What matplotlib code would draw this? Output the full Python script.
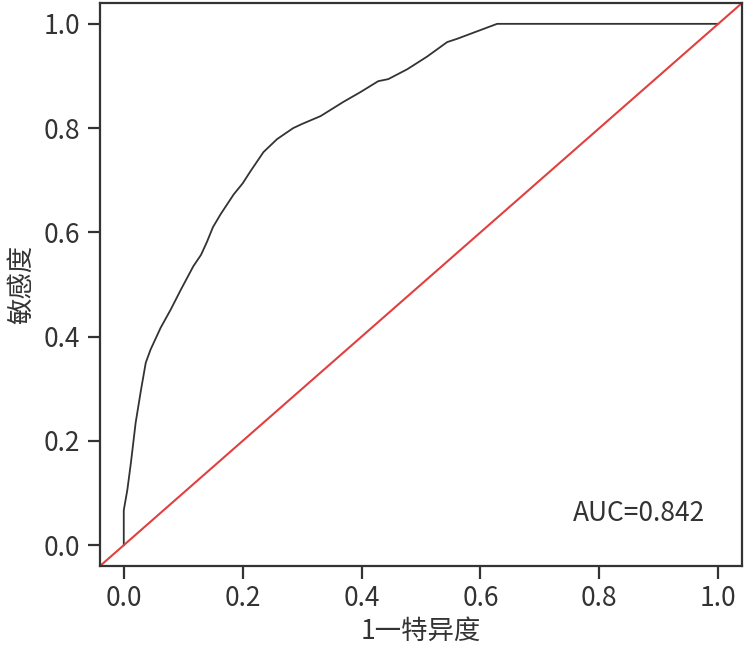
import matplotlib
matplotlib.use("Agg")
import matplotlib.pyplot as plt

plt.rcParams['font.family'] = ['Noto Sans CJK SC', 'DejaVu Sans']

# ROC curve points
fpr = [0.0, 0.0, 0.006, 0.012, 0.020, 0.029, 0.037, 0.045, 0.062, 0.079, 0.096,
       0.117, 0.130, 0.140, 0.150, 0.163, 0.185, 0.200, 0.213, 0.235, 0.258, 0.285,
       0.300, 0.331, 0.369, 0.398, 0.428, 0.445, 0.477, 0.510, 0.544, 0.560,
       0.628, 1.0]
tpr = [0.0, 0.067, 0.106, 0.158, 0.235, 0.298, 0.350, 0.375, 0.417, 0.452, 0.490,
       0.535, 0.557, 0.582, 0.610, 0.635, 0.673, 0.694, 0.717, 0.754, 0.779, 0.800,
       0.808, 0.823, 0.850, 0.869, 0.890, 0.894, 0.913, 0.937, 0.965, 0.971,
       1.0, 1.0]
auc = 0.842
ticks = [0.0, 0.2, 0.4, 0.6, 0.8, 1.0]

fig = plt.figure(figsize=(7.49, 6.5), dpi=100)
ax = fig.add_axes([0.1335, 0.1292, 0.8572, 0.8662])

ax.plot(fpr, tpr, color='#333333', lw=1.3)
ax.plot([-0.04, 1.04], [-0.04, 1.04], color='#e0403f', lw=1.5)

ax.set_xlim(-0.04, 1.04)
ax.set_ylim(-0.04, 1.04)
ax.set_xticks(ticks)
ax.set_yticks(ticks)
ax.set_xticklabels([f"{t:.1f}" for t in ticks])
ax.set_yticklabels([f"{t:.1f}" for t in ticks])

for s in ax.spines.values():
    s.set_color('#333333')
    s.set_linewidth(1.6)
ax.tick_params(axis='both', labelsize=19, length=9, width=1.6, color='#333333',
               labelcolor='#333333', pad=5)

ax.set_xlabel('1一特异度', fontsize=19, color='#333333', labelpad=4)
ax.set_ylabel('敏感度', fontsize=19, color='#333333', labelpad=6)

ax.text(0.755, 0.06, f'AUC={auc:.3f}', fontsize=19, color='#333333',
        ha='left', va='center')

fig.savefig('out.png', dpi=100)
